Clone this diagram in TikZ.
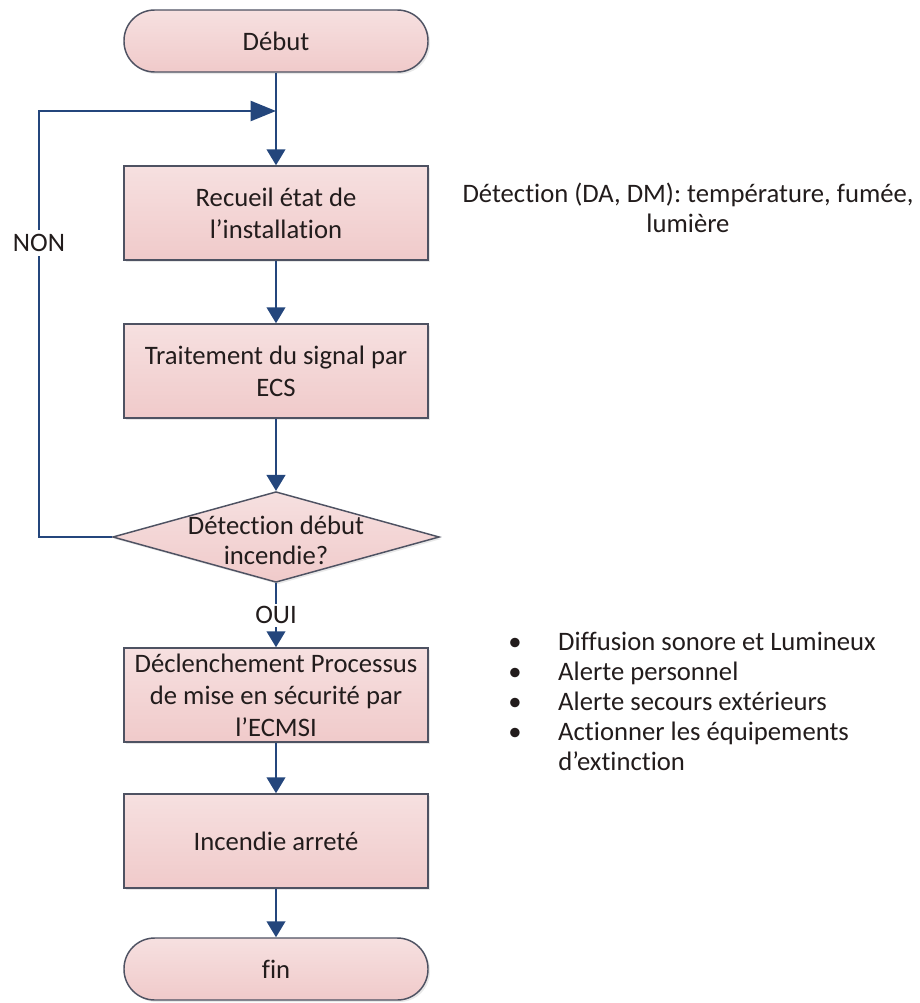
\documentclass[tikz,border=0pt]{standalone}
\usepackage{fontspec}
\setmainfont{Carlito}[Ligatures=NoCommon]
\usetikzlibrary{arrows.meta,shapes.geometric,shadows}
\definecolor{flowfill}{RGB}{240,202,202}
\definecolor{flowfilltop}{RGB}{246,224,224}
\definecolor{flowedge}{RGB}{78,82,98}
\definecolor{flowarrow}{RGB}{36,70,124}
\definecolor{ink}{RGB}{34,28,28}
\begin{document}
\begin{tikzpicture}[x=0.75pt,y=-0.75pt,
  basefont/.style={font=\fontsize{20}{24}\selectfont, text=ink},
  box/.style={basefont, draw=flowedge, line width=1.1pt,
    top color=flowfilltop, bottom color=flowfill,
    minimum width=228pt, minimum height=70.5pt, align=center, inner sep=2pt,
    drop shadow={opacity=0.18, shadow xshift=1.5pt, shadow yshift=-1.5pt}},
  term/.style={box, rounded corners=23pt, minimum height=46.5pt},
  dia/.style={diamond, draw=flowedge, line width=1.1pt,
    top color=flowfilltop, bottom color=flowfill,
    minimum width=245pt, minimum height=68pt, inner sep=0pt,
    drop shadow={opacity=0.18, shadow xshift=1.5pt, shadow yshift=-1.5pt}},
  flow/.style={draw=flowarrow, line width=1.7pt,
    -{Triangle[width=14pt,length=12pt]}},
  longtip/.style={draw=flowarrow, line width=1.7pt,
    -{Triangle[width=15pt,length=19pt]}},
  lbl/.style={basefont, fill=white, inner sep=2pt},
  note/.style={basefont, align=center, inner sep=0pt}
]
\useasboundingbox (0,0) rectangle (920,1003);

% main column
\node[term] (start) at (276,41)  {Début};
\node[box]  (b1)    at (276,213) {Recueil état de\\l’installation};
\node[box]  (b2)    at (276,371) {Traitement du signal par\\ECS};
\node[dia]  (d)     at (276,537) {};
\node[basefont, align=center, inner sep=0pt, font=\fontsize{20}{22.5}\selectfont] (dtxt) at (276,540) {Détection début\\incendie?};
\node[box]  (b3)    at (276,695) {Déclenchement Processus\\de mise en sécurité par\\l’ECMSI};
\node[box]  (b4)    at (276,841) {Incendie arreté};
\node[term] (stop)  at (276,969) {fin};

% loop back to the acquisition step
\coordinate (join)  at (276,111);
\coordinate (loopA) at (39,537);
\coordinate (loopB) at (39,111);

\draw[flow] (start) -- (b1);
\draw[longtip] (d.west) -- (loopA) -- (loopB) -- (join);
\node[lbl, inner sep=3pt] (non) at (39,243) {NON};
\draw[flow] (b1) -- (b2);
\draw[flow] (b2) -- (d);
\draw[flow] (d.south) -- node[lbl] (oui) {OUI} (b3.north);
\draw[flow] (b3) -- (b4);
\draw[flow] (b4) -- (stop);

% side notes
\node[note, font=\fontsize{20}{22}\selectfont] (detect) at (688,208)
  {Détection (DA, DM): température, fumée,\\lumière};
\node[note, align=left, anchor=north west, font=\fontsize{20}{22.5}\selectfont] (actions) at (508,632)
  {\makebox[37.5pt][l]{•}Diffusion sonore et Lumineux\\
   \makebox[37.5pt][l]{•}Alerte personnel\\
   \makebox[37.5pt][l]{•}Alerte secours extérieurs\\
   \makebox[37.5pt][l]{•}Actionner les équipements\\
   \hspace*{37.5pt}d’extinction};
\end{tikzpicture}
\end{document}
